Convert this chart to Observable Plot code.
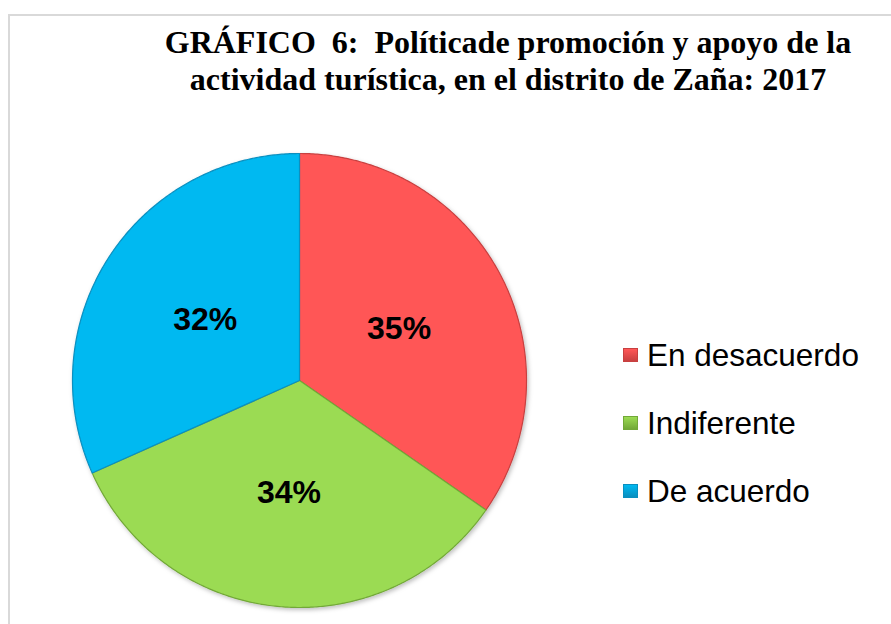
<!DOCTYPE html>
<html>
<head>
<meta charset="utf-8">
<script src="https://cdn.jsdelivr.net/npm/d3@7"></script>
<script src="https://cdn.jsdelivr.net/npm/@observablehq/plot@0.6"></script>
<style>
  html, body { margin: 0; padding: 0; background: #fff; }
  #wrap { position: relative; width: 891px; height: 624px; overflow: hidden; background: #fff; }
  #frame { position: absolute; left: 8px; top: 14px; width: 900px; height: 700px;
           border-left: 2px solid #d9d9d9; border-top: 2px solid #d9d9d9; }
  #title { position: absolute; left: 108px; width: 800px; top: 24px; text-align: center;
           font-family: "Liberation Serif", "Times New Roman", serif; font-weight: bold;
           font-size: 32px; line-height: 37px; color: #000; white-space: pre; }
  #chart { position: absolute; left: 0; top: 0; }
  #legend { position: absolute; left: 623px; top: 321px;
            font-family: "Liberation Sans", Arial, sans-serif; font-size: 31.5px; color: #000; }
  .item { display: flex; align-items: center; height: 68px; }
  .sw { width: 15px; height: 14px; margin-right: 9px; box-sizing: border-box; }
</style>
</head>
<body>
<div id="wrap">
  <div id="frame"></div>
  <div id="chart"></div>
  <div id="title"></div>
  <div id="legend"></div>
</div>
<script>
// ---- data ----
const titleLines = [
  "GRÁFICO  6:  Políticade promoción y apoyo de la",
  "actividad turística, en el distrito de Zaña: 2017"
];
const categories = ["En desacuerdo", "Indiferente", "De acuerdo"];
const values = [35, 34, 32];
const labels = ["35%", "34%", "32%"];
const colors = ["#ff5757", "#9bdb52", "#00b9f1"];
const strokes = ["#c84040", "#72a838", "#0a8fbf"];

// ---- geometry from data ----
const pie = d3.pie().sort(null).value(d => d.value);
const arcs = pie(categories.map((c, i) => ({name: c, value: values[i], label: labels[i]})));

const slicePts = [];
arcs.forEach(a => {
  const n = Math.max(2, Math.ceil((a.endAngle - a.startAngle) / (Math.PI / 360)));
  slicePts.push({name: a.data.name, x: 0, y: 0});
  for (let k = 0; k <= n; k++) {
    const t = a.startAngle + (a.endAngle - a.startAngle) * k / n;
    slicePts.push({name: a.data.name, x: Math.sin(t), y: Math.cos(t)});
  }
  slicePts.push({name: a.data.name, x: 0, y: 0});
});
const labelPts = arcs.map(a => {
  const m = (a.startAngle + a.endAngle) / 2;
  return {name: a.data.name, label: a.data.label, x: 0.495 * Math.sin(m), y: 0.495 * Math.cos(m)};
});

const plot = Plot.plot({
  width: 891,
  height: 624,
  marginLeft: 72,
  marginRight: 365,
  marginTop: 153,
  marginBottom: 17,
  x: {domain: [-1, 1], axis: null},
  y: {domain: [-1, 1], axis: null},
  color: {domain: categories, range: colors},
  style: {background: "transparent", overflow: "visible"},
  marks: [
    Plot.line(slicePts, {x: "x", y: "y", z: "name", fill: "name",
      stroke: d => strokes[categories.indexOf(d.name)], strokeWidth: 1.2,
      strokeLinejoin: "round", curve: "linear"}),
    Plot.text(labelPts, {x: "x", y: "y", text: "label", fontSize: 32,
      fontWeight: "bold", fontFamily: "Liberation Sans, Arial, sans-serif", fill: "#000"})
  ]
});
const svg = d3.select(plot);
const defs = svg.insert("defs", ":first-child");
const f = defs.append("filter").attr("id", "sh").attr("x", "-10%").attr("y", "-10%").attr("width", "120%").attr("height", "120%");
f.append("feDropShadow").attr("dx", 1.5).attr("dy", 2).attr("stdDeviation", 2).attr("flood-color", "#000").attr("flood-opacity", 0.25);
svg.select("g[aria-label='line']").attr("filter", "url(#sh)");
document.getElementById("chart").append(plot);

document.getElementById("title").textContent = titleLines.join("\n");

const leg = d3.select("#legend");
categories.forEach((c, i) => {
  const it = leg.append("div").attr("class", "item");
  it.append("div").attr("class", "sw")
    .style("background", `linear-gradient(${colors[i]}, ${strokes[i]})`)
    .style("border", `1px solid ${strokes[i]}`);
  it.append("span").text(c);
});
</script>
</body>
</html>
